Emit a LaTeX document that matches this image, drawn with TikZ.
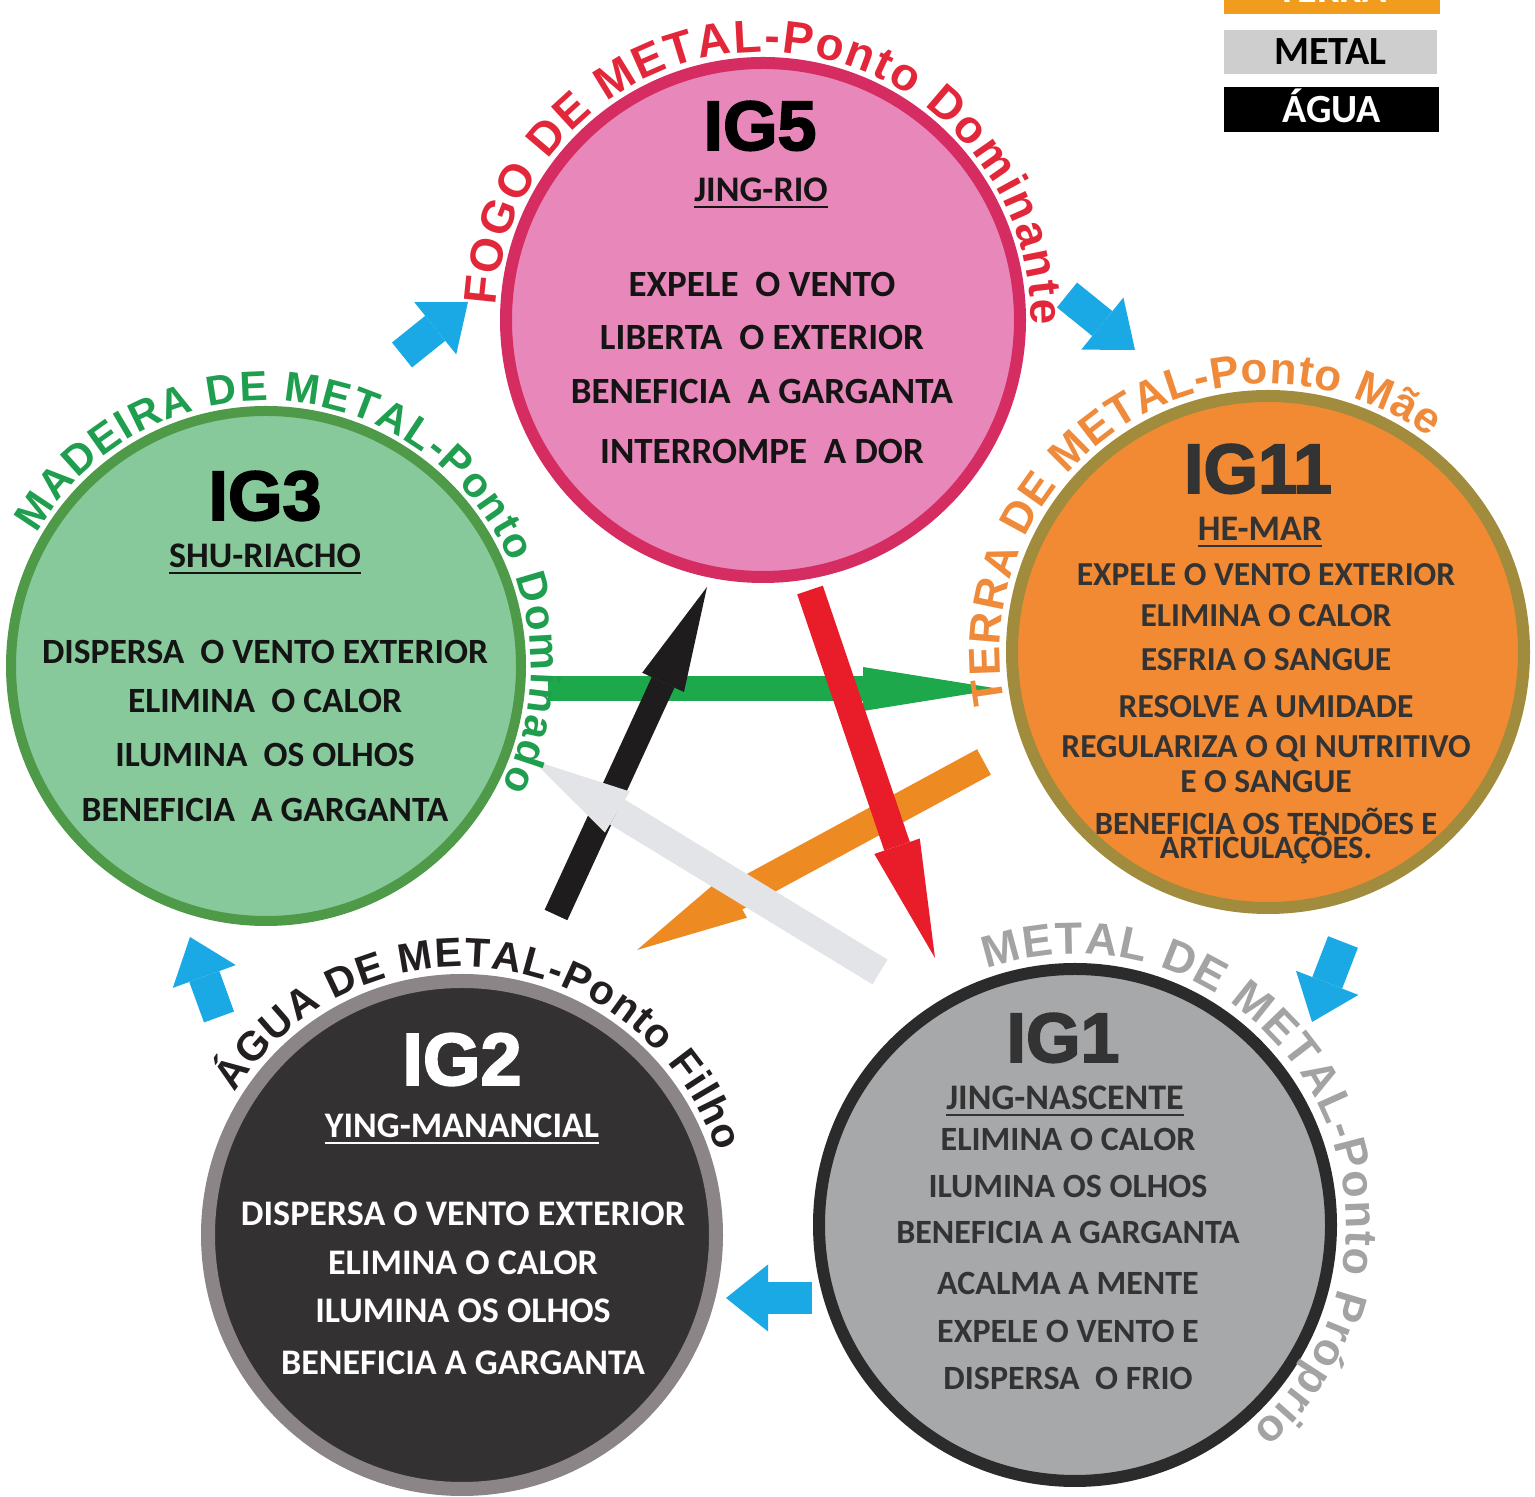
\documentclass[tikz,border=0pt]{standalone}
\usepackage{fontspec}
\usetikzlibrary{decorations.text,arrows.meta}
\newfontfamily\bodyf{Carlito}
\newfontfamily\titlef{Liberation Sans}[BoldFeatures={FakeBold=2.5}]
\newfontfamily\arcf{Liberation Sans}
\newcommand\fsz[1]{\fontsize{#1}{#1}\selectfont}
\definecolor{fillV}{HTML}{E887B9}
\definecolor{bordV}{HTML}{D52D62}
\definecolor{fillIII}{HTML}{88C99C}
\definecolor{bordIII}{HTML}{4E9A49}
\definecolor{fillXI}{HTML}{F18A33}
\definecolor{bordXI}{HTML}{A08C3C}
\definecolor{fillI}{HTML}{A7A8AA}
\definecolor{bordI}{HTML}{2B2B2B}
\definecolor{fillII}{HTML}{333132}
\definecolor{bordII}{HTML}{8C8588}
\definecolor{txtred}{HTML}{E2273A}
\definecolor{txtgreen}{HTML}{1E9E4E}
\definecolor{txtorange}{HTML}{EF8A3A}
\definecolor{txtdark}{HTML}{231F20}
\definecolor{txtgray}{HTML}{A3A3A3}
\definecolor{darktxt}{HTML}{333333}
\definecolor{blacktxt}{HTML}{141414}
\definecolor{bluearrow}{HTML}{1BA9E6}
\definecolor{arrgreen}{HTML}{1DA84B}
\definecolor{arrblack}{HTML}{1E1C1D}
\definecolor{arrred}{HTML}{E91C2A}
\definecolor{arrorange}{HTML}{EE8A22}
\definecolor{arrgray}{HTML}{E2E4E7}
\definecolor{legorange}{HTML}{F29C1E}
\definecolor{leggray}{HTML}{CFCECF}
\begin{document}
\begin{tikzpicture}[x=1pt,y=1pt,
  circ/.style={circle,inner sep=0pt,minimum size=#1},
  ttl/.style={anchor=base,inner sep=0pt,font=\titlef\bfseries\fsz{70}},
  sub/.style={anchor=base,inner sep=0pt,font=\bodyf\bfseries\fsz{36}},
  bodyln/.style={anchor=base,inner sep=0pt,font=\bodyf\bfseries\fsz{#1}},
  uline/.style={line width=2.5pt},
  arctext/.style n args={3}{decorate,decoration={text along path,text align={fit to path},text color=#1,text={|\arcf\bfseries\fsz{#2}|#3}}},
  blockarrow/.style={draw=bluearrow,line width=32pt,-{Triangle[length=42pt,width=67pt,line width=0pt]}},
  bigarrow/.style n args={4}{draw=#1,line width=#2,-{Triangle[length=#3,width=#4,line width=0pt]}},
  legend/.style={inner sep=0pt,minimum width=216pt,minimum height=45pt,text height=26pt,text depth=0pt,font=\bodyf\bfseries\fsz{40}}
]
\useasboundingbox (0,0) rectangle (1535,1497);

% legend
\node[legend,fill=legorange,text=white,minimum height=48pt] (lt) at (1332,1507) {TERRA};
\node[legend,fill=leggray,text=black,minimum width=213pt,minimum height=44pt] (lm) at (1330.5,1445) {METAL};
\node[legend,fill=black,text=white,minimum width=215pt] (la) at (1331.5,1387.5) {ÁGUA};

% circles
\node[circ=514pt,fill=fillV,draw=bordV,line width=12pt] (c5) at (763,1177) {};
\node[circ=510pt,fill=fillIII,draw=bordIII,line width=10pt] (c3) at (266,831) {};
\node[circ=512pt,fill=fillXI,draw=bordXI,line width=12pt] (c11) at (1268,845) {};
\node[circ=512pt,fill=fillI,draw=bordI,line width=12pt] (c1) at (1075,272) {};
\node[circ=508pt,fill=fillII,draw=bordII,line width=14pt] (c2) at (462,262) {};

% central arrows
\coordinate (gA) at (548,808); \coordinate (gB) at (1000,808);
\coordinate (kA) at (556,582); \coordinate (kB) at (707,910);
\coordinate (oA) at (984,735); \coordinate (oB) at (637,547);
\coordinate (wA) at (880,525); \coordinate (wB) at (532,737);
\coordinate (rA) at (810,907); \coordinate (rB) at (935,539);
\draw[bigarrow={arrgreen}{25pt}{137pt}{44pt}] (gA) -- (gB);
\draw[bigarrow={arrblack}{25pt}{105pt}{46pt}] (kA) -- (kB);
\draw[bigarrow={arrorange}{29pt}{112pt}{48pt}] (oA) -- (oB);
\draw[bigarrow={arrgray}{29pt}{100pt}{48pt}] (wA) -- (wB);
\draw[bigarrow={arrred}{27pt}{118pt}{48pt}] (rA) -- (rB);

% blue arrows
\coordinate (bA1) at (402,1142); \coordinate (bB1) at (468,1195);
\coordinate (bA2) at (1067,1202); \coordinate (bB2) at (1135,1147);
\coordinate (bA3) at (1343,555); \coordinate (bB3) at (1312,475);
\coordinate (bA4) at (812,199); \coordinate (bB4) at (726,199);
\coordinate (bA5) at (219,480); \coordinate (bB5) at (190,560);
\draw[blockarrow] (bA1) -- (bB1);
\draw[blockarrow] (bA2) -- (bB2);
\draw[blockarrow] (bA3) -- (bB3);
\draw[blockarrow] (bA4) -- (bB4);
\draw[blockarrow] (bA5) -- (bB5);

% curved labels
\path[arctext={txtred}{46}{FOGO DE METAL-Ponto Dominante}] (c5.center) ++(177:268) arc[start angle=177,end angle=-1,radius=268];
\path[arctext={txtgreen}{42}{MADEIRA DE METAL-Ponto Dominado}] (c3.center) ++(150:265) arc[start angle=150,end angle=-27,radius=265];
\path[arctext={txtorange}{44}{TERRA DE METAL-Ponto Mãe}] (c11.center) ++(191:268) arc[start angle=191,end angle=53,radius=268];
\path[arctext={txtdark}{41}{ÁGUA DE METAL-Ponto Filho}] (c2.center) ++(148:268) arc[start angle=148,end angle=18,radius=268];
\path[arctext={txtgray}{45}{METAL DE METAL-Ponto Próprio}] (c1.center) ++(109:271) arc[start angle=109,end angle=-49,radius=271];

% IG5
\node[ttl,text=black] (h5) at (760,1347) {IG5};
\node[sub,text=blacktxt] (s5) at (761,1295) {JING-RIO};
\draw[uline,blacktxt] ([yshift=-5pt]s5.base west) -- ([yshift=-5pt]s5.base east);
\foreach \s/\y [count=\i] in {EXPELE~ O VENTO/1200,LIBERTA~ O EXTERIOR/1147,BENEFICIA~ A GARGANTA/1093,INTERROMPE~ A DOR/1033}
  \node[bodyln=37,text=blacktxt] (b5-\i) at (762,\y) {\s};

% IG3
\node[ttl,text=black] (h3) at (265,977) {IG3};
\node[sub,text=blacktxt] (s3) at (265,929) {SHU-RIACHO};
\draw[uline,blacktxt] ([yshift=-5pt]s3.base west) -- ([yshift=-5pt]s3.base east);
\foreach \s/\y [count=\i] in {DISPERSA~ O VENTO EXTERIOR/833,ELIMINA~ O CALOR/784,ILUMINA~ OS OLHOS/730,BENEFICIA~ A GARGANTA/675}
  \node[bodyln=35.5,text=blacktxt] (b3-\i) at (265,\y) {\s};

% IG11
\node[ttl,text=darktxt] (h11) at (1258,1004) {IG11};
\node[sub,text=darktxt] (s11) at (1260,956) {HE-MAR};
\draw[uline,darktxt] ([yshift=-5pt]s11.base west) -- ([yshift=-5pt]s11.base east);
\foreach \s/\y [count=\i] in {EXPELE O VENTO EXTERIOR/911,ELIMINA O CALOR/870,ESFRIA O SANGUE/826,RESOLVE A UMIDADE/779,REGULARIZA O QI NUTRITIVO/739,E O SANGUE/704}
  \node[bodyln=33.5,text=darktxt] (b11-\i) at (1266,\y) {\s};
\node[bodyln=32.5,text=darktxt] (b11-7) at (1266,662) {BENEFICIA OS TENDÕES E};
\node[bodyln=32.5,text=darktxt] (b11-8) at (1266,638) {ARTICULAÇÕES.};

% IG1
\node[ttl,text=darktxt] (h1) at (1063,435) {IG1};
\node[sub,text=darktxt] (s1) at (1065,387) {JING-NASCENTE};
\draw[uline,darktxt] ([yshift=-5pt]s1.base west) -- ([yshift=-5pt]s1.base east);
\foreach \s/\y [count=\i] in {ELIMINA O CALOR/346,ILUMINA OS OLHOS/299,BENEFICIA A GARGANTA/253,ACALMA A MENTE/202,EXPELE O VENTO E/154,DISPERSA~ O FRIO/107}
  \node[bodyln=34,text=darktxt] (b1-\i) at (1068,\y) {\s};

% IG2
\node[ttl,text=white,font=\titlef\bfseries\fsz{74}] (h2) at (462,412) {IG2};
\node[sub,text=white] (s2) at (462,359) {YING-MANANCIAL};
\draw[uline,white] ([yshift=-5pt]s2.base west) -- ([yshift=-5pt]s2.base east);
\foreach \s/\y [count=\i] in {DISPERSA O VENTO EXTERIOR/271,ELIMINA O CALOR/222,ILUMINA OS OLHOS/174,BENEFICIA A GARGANTA/122}
  \node[bodyln=36,text=white] (b2-\i) at (463,\y) {\s};
\end{tikzpicture}
\end{document}
